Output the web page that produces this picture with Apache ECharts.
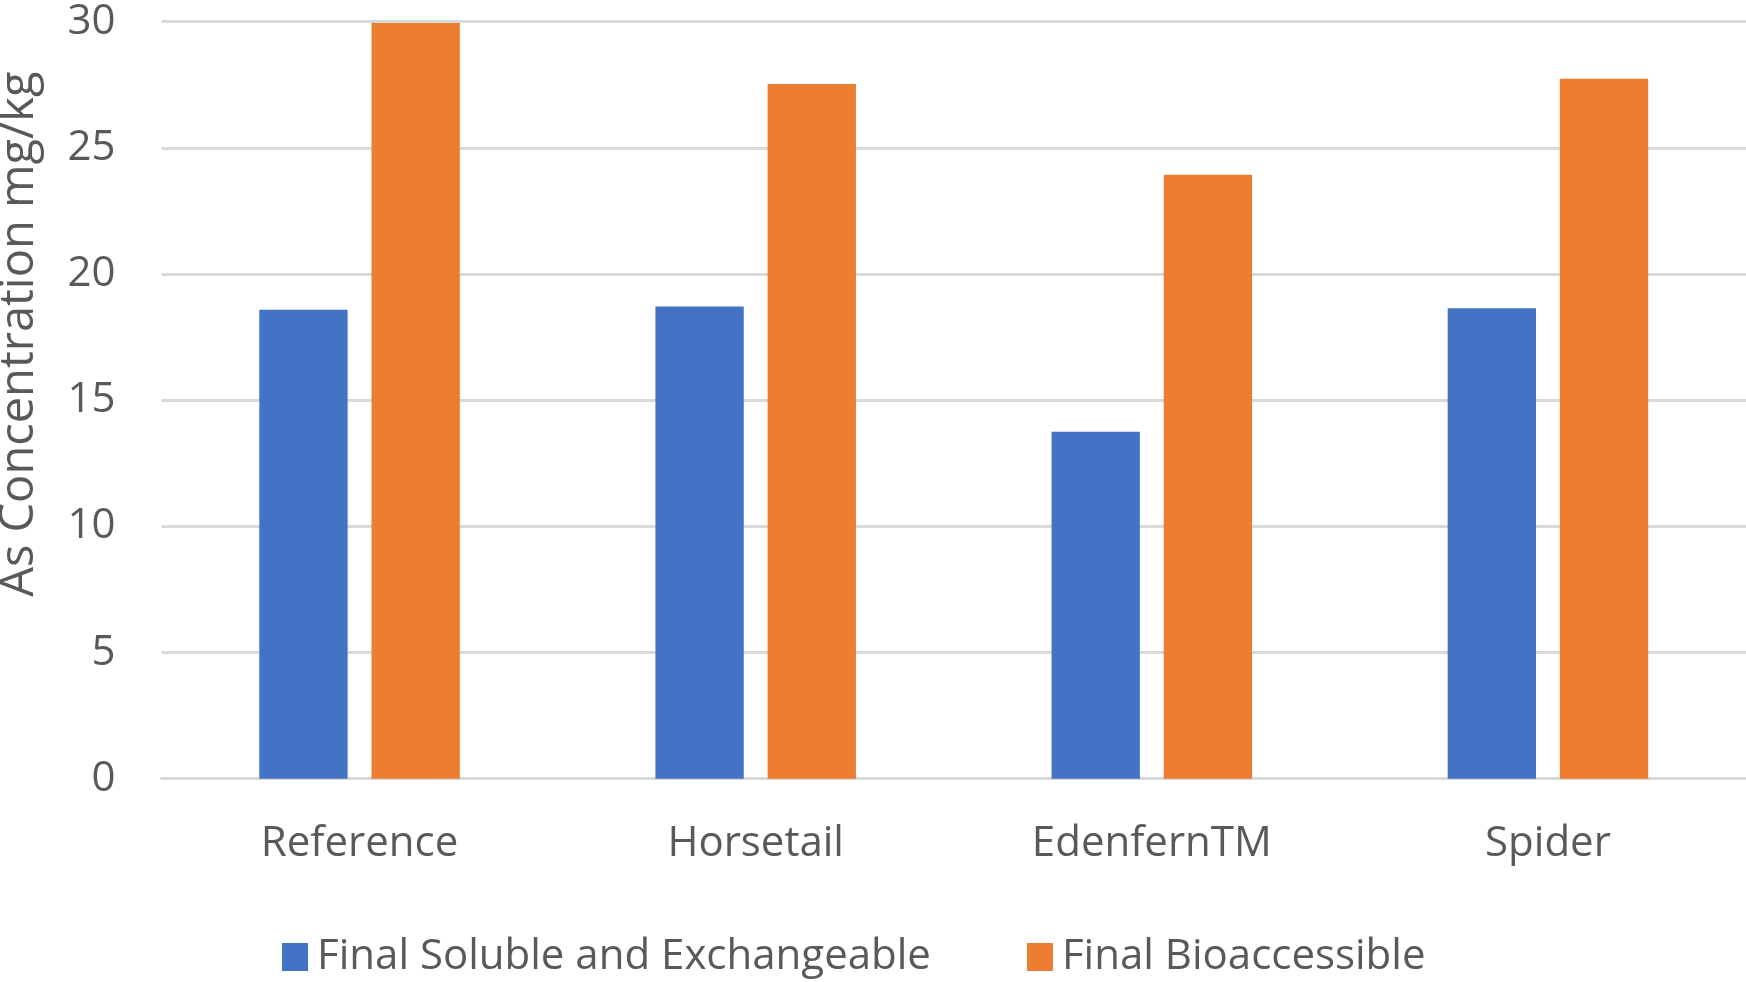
<!DOCTYPE html>
<html>
<head>
<meta charset="utf-8">
<script src="https://cdn.jsdelivr.net/npm/echarts@6/dist/echarts.min.js"></script>
<style>
  html, body { margin: 0; padding: 0; background: #ffffff; }
  #chart { width: 1746px; height: 982px; }
</style>
</head>
<body>
<div id="chart"></div>
<script>
// Plant treatments on the x axis
const categories = ['Reference', 'Horsetail', 'EdenfernTM', 'Spider'];
// Arsenic concentrations (mg/kg)
const solubleExchangeable = [18.58, 18.71, 13.75, 18.64];
const bioaccessible = [29.95, 27.53, 23.93, 27.74];
const seriesNames = ['Final Soluble and Exchangeable', 'Final Bioaccessible'];
const yTicks = { min: 0, max: 30, interval: 5 };

const textColor = '#595959';
const fontFamily = '"Open Sans", "Noto Sans", sans-serif';

const chart = echarts.init(document.getElementById('chart'), null, { renderer: 'canvas' });

chart.setOption({
  animation: false,
  backgroundColor: '#ffffff',
  textStyle: { fontFamily: fontFamily, color: textColor },
  grid: {
    left: 161.5, right: 0, top: 21.7, bottom: 203.3,
    containLabel: false,
    outerBoundsMode: 'none'
  },
  legend: {
    data: seriesNames,
    left: 282,
    top: 936,
    padding: 0,
    itemWidth: 26,
    itemHeight: 28,
    itemGap: 96,
    icon: 'rect',
    textStyle: { fontSize: 42, color: textColor, fontFamily: fontFamily, padding: [0, 0, 0, 4] }
  },
  xAxis: {
    type: 'category',
    data: categories,
    axisLine: { show: true, lineStyle: { color: '#d9d9d9', width: 3 } },
    axisTick: { show: false },
    axisLabel: { fontSize: 42, color: textColor, margin: 44, fontFamily: fontFamily }
  },
  yAxis: {
    type: 'value',
    min: yTicks.min,
    max: yTicks.max,
    interval: yTicks.interval,
    name: 'As Concentration mg/kg',
    nameLocation: 'middle',
    nameGap: 118,
    nameRotate: 90,
    nameTextStyle: { fontSize: 47, color: textColor, fontFamily: fontFamily, padding: [0, 0, 0, 132] },
    axisLine: { show: false },
    axisTick: { show: false },
    axisLabel: { fontSize: 42, color: textColor, margin: 46, fontFamily: fontFamily },
    splitLine: { show: true, lineStyle: { color: '#d9d9d9', width: 3 } }
  },
  series: [
    {
      name: seriesNames[0],
      type: 'bar',
      data: solubleExchangeable,
      barWidth: '22.3%',
      barGap: '27%',
      itemStyle: { color: '#4472C4' }
    },
    {
      name: seriesNames[1],
      type: 'bar',
      data: bioaccessible,
      barWidth: '22.3%',
      barGap: '27%',
      itemStyle: { color: '#ED7D31' }
    }
  ]
});
</script>
</body>
</html>
